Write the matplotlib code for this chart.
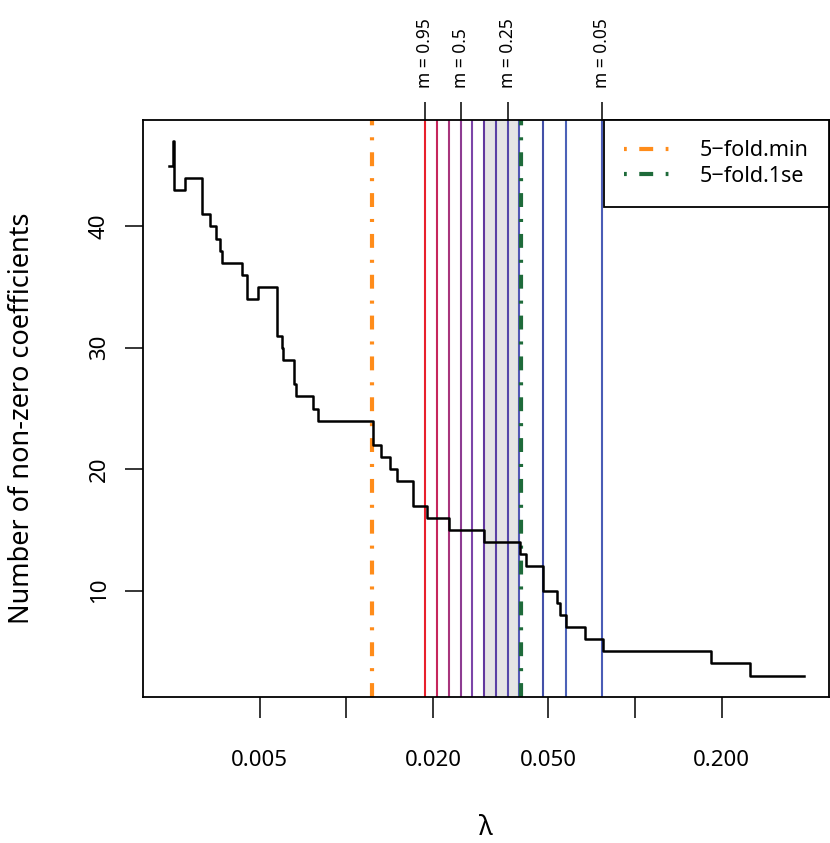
import matplotlib
matplotlib.use("Agg")
import matplotlib.pyplot as plt
from matplotlib.ticker import NullLocator, FixedLocator, FixedFormatter
from matplotlib.lines import Line2D

plt.rcParams['font.family'] = ['Noto Sans', 'DejaVu Sans']
plt.rcParams['lines.scale_dashes'] = False

# Trajetória: lambda (início de cada degrau) e número de coeficientes não nulos
lam_passos = [0.002416, 0.002510, 0.002530, 0.002761, 0.003149, 0.003370, 0.003516,
              0.003650, 0.003694, 0.004348, 0.004526, 0.004940, 0.005725, 0.005982,
              0.006030, 0.006556, 0.006662, 0.007628, 0.007989, 0.012405, 0.013213,
              0.014201, 0.014956, 0.017060, 0.019067, 0.022727, 0.030024, 0.040000,
              0.041787, 0.048040, 0.053716, 0.054929, 0.057714, 0.067314, 0.077804,
              0.183231, 0.250035, 0.384300]
n_coef = [45, 47, 43, 44, 41, 40, 39, 38, 37, 36, 34, 35, 31, 30, 29, 27, 26, 25, 24,
          22, 21, 20, 19, 17, 16, 15, 14, 13, 12, 10, 9, 8, 7, 6, 5, 4, 3, 3]

# Linhas de validação cruzada
lam_min = 0.012303
lam_1se = 0.040324

# Linhas verticais coloridas (uma por valor de m)
lam_m = [0.018766, 0.020601, 0.022594, 0.024859, 0.027290, 0.029955, 0.033045,
         0.036275, 0.039780, 0.048040, 0.057847, 0.076896]
cores_m = ['#E8202C', '#C6265C', '#A8357C', '#8D3C92', '#7C45A8', '#62389E',
           '#5A40A4', '#5548AA', '#5258B4', '#4350A8', '#4C62B8', '#4A5CB6']

# Rótulos do eixo superior
m_rotulos = ['m = 0.95', 'm = 0.5', 'm = 0.25', 'm = 0.05']
m_idx = [0, 3, 7, 11]

# Faixa sombreada
faixa = (lam_m[5], lam_m[8])

x_ticks = [0.005, 0.01, 0.02, 0.05, 0.1, 0.2]
x_rotulos = ['0.005', '', '0.020', '0.050', '', '0.200']
y_ticks = [10, 20, 30, 40]

tracos = (10, 8.6, 2.2, 8.6)  # ponto-traço

fig = plt.figure(figsize=(8.3, 8.43), dpi=100)
ax = fig.add_axes([143/830, 1-697/843, 686/830, 577/843])

ax.axvspan(faixa[0], faixa[1], color='#E5E5E5', lw=0, zorder=0)
for lv, c in zip(lam_m, cores_m):
    ax.axvline(lv, color=c, lw=1.5, zorder=1)

ax.axvline(lam_min, color='#FF8C1A', lw=3, dashes=tracos, zorder=2)
ax.axvline(lam_1se, color='#1E6B3A', lw=3, dashes=tracos, zorder=2)

ax.plot(lam_passos, n_coef, color='black', lw=1.8, drawstyle='steps-post', zorder=3)

ax.set_xscale('log')
ax.set_xlim(0.00197, 0.471)
ax.set_ylim(1.24, 48.76)
ax.xaxis.set_minor_locator(NullLocator())
ax.xaxis.set_major_locator(FixedLocator(x_ticks))
ax.xaxis.set_major_formatter(FixedFormatter(x_rotulos))
ax.set_yticks(y_ticks)
ax.set_yticklabels([str(v) for v in y_ticks], rotation=90, va='center')

for s in ax.spines.values():
    s.set_linewidth(1.3)
ax.tick_params(axis='x', length=15, width=1.1, pad=23, labelsize=16)
ax.tick_params(axis='y', length=13, width=1.1, pad=11, labelsize=16)

# Eixo superior com os valores de m
ax2 = ax.twiny()
ax2.set_xscale('log')
ax2.set_xlim(ax.get_xlim())
ax2.xaxis.set_minor_locator(NullLocator())
ax2.xaxis.set_major_locator(FixedLocator([lam_m[i] for i in m_idx]))
ax2.xaxis.set_major_formatter(FixedFormatter(m_rotulos))
ax2.tick_params(axis='x', length=13, width=1.1, pad=10, labelsize=12.5, labelrotation=90)
for s in ax2.spines.values():
    s.set_visible(False)

fig.text(486/830, 1-828/843, 'λ', ha='center', va='center', fontsize=19)
fig.text(22/830, 1-418/843, 'Number of non-zero coefficients', ha='center', va='center',
         rotation=90, fontsize=19.5)

handles = [Line2D([], [], color='#FF8C1A', lw=3, dashes=(2, 9, 10, 9)),
           Line2D([], [], color='#1E6B3A', lw=3, dashes=(2, 9, 10, 9))]
leg = ax.legend(handles, ['5−fold.min', '5−fold.1se'], loc='upper right',
                borderaxespad=0, fontsize=15.5, fancybox=False, framealpha=1,
                edgecolor='black', handlelength=2.1, handletextpad=1.4,
                borderpad=0.95, labelspacing=0.2)
leg.get_frame().set_linewidth(1.3)
leg.set_zorder(5)

fig.savefig('out.png', dpi=100)
